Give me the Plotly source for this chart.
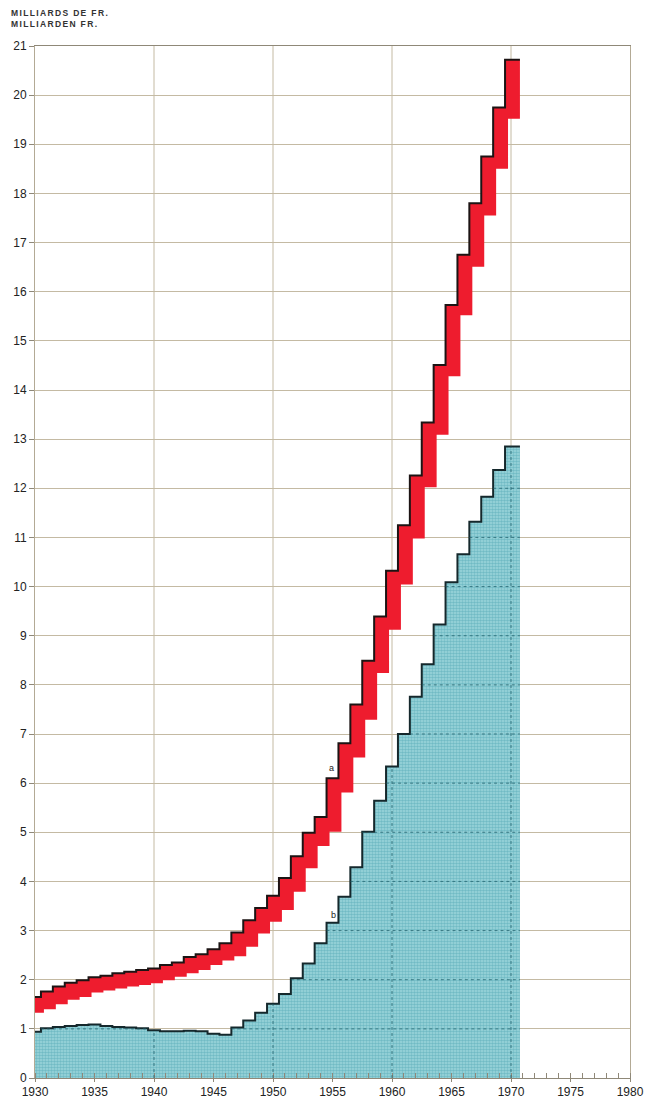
import numpy as np
import plotly.graph_objects as go

# Years 1930-1970, one value per year (milliards de francs)
years = list(range(1930, 1971))

# Curve a: band between a lower and an upper value
a_high = [1.65, 1.76, 1.86, 1.94, 1.99, 2.05, 2.08, 2.13, 2.16, 2.20,
          2.23, 2.30, 2.35, 2.46, 2.52, 2.62, 2.74, 2.96, 3.21, 3.46,
          3.71, 4.07, 4.51, 4.99, 5.31, 6.10, 6.81, 7.60, 8.49, 9.39,
          10.32, 11.25, 12.26, 13.34, 14.51, 15.73, 16.75, 17.80, 18.75, 19.75,
          20.72]
a_low = [1.33, 1.40, 1.50, 1.59, 1.65, 1.74, 1.78, 1.82, 1.86, 1.89,
         1.93, 1.99, 2.06, 2.13, 2.20, 2.30, 2.39, 2.48, 2.67, 2.94,
         3.18, 3.42, 3.79, 4.27, 4.72, 5.01, 5.81, 6.52, 7.29, 8.24,
         9.12, 10.04, 10.98, 12.02, 13.09, 14.28, 15.52, 16.51, 17.55, 18.50,
         19.52]

# Curve b: filled area
b_vals = [0.94, 1.01, 1.04, 1.06, 1.08, 1.09, 1.06, 1.04, 1.03, 1.01,
          0.97, 0.95, 0.95, 0.96, 0.95, 0.90, 0.88, 1.03, 1.17, 1.33,
          1.51, 1.71, 2.03, 2.33, 2.74, 3.16, 3.69, 4.29, 5.01, 5.64,
          6.34, 7.00, 7.76, 8.42, 9.23, 10.09, 10.66, 11.32, 11.83, 12.37,
          12.85]

y_ticks = list(range(0, 22))
x_label_years = list(range(1930, 1985, 5))
decade_lines = [1940, 1950, 1960, 1970]
unit_lines = ["MILLIARDS DE FR.", "MILLIARDEN FR."]

X0, X1 = 1930, 1980
LAG = 0.25  # lower edge of band a trails the upper edge

yr = np.array(years, dtype=float)
hi = np.array(a_high)
lo = np.array(a_low)
bv = np.array(b_vals)

# step edges: each yearly value spans one year centred on the year
left = np.maximum(yr - 0.5, X0)
end = yr[-1] + 0.5 + LAG
right = np.append(left[1:], end)
step_x = np.append(left, end)

# polygon for band a (upper staircase, then lower staircase back)
up_x, up_y = [], []
for i in range(len(yr)):
    up_x += [left[i], right[i]]
    up_y += [hi[i], hi[i]]
lo_left = np.maximum(yr - 0.5 + LAG, X0)
lo_left[0] = X0
lo_right = yr + 0.5 + LAG
dn_x, dn_y = [], []
for i in range(len(yr) - 1, -1, -1):
    dn_x += [lo_right[i], lo_left[i]]
    dn_y += [lo[i], lo[i]]
band_x = up_x + dn_x
band_y = up_y + dn_y

fig = go.Figure()

# area b, dotted teal fill
fig.add_trace(go.Scatter(
    x=step_x, y=np.append(bv, bv[-1]), mode="lines", line_shape="hv",
    line=dict(width=0, color="rgba(0,0,0,0)"), fill="tozeroy",
    fillpattern=dict(shape=".", fgcolor="#469fab",
                     bgcolor="#9dd6dc", size=3, solidity=0.55),
    hoverinfo="skip", showlegend=False))

# grid lines showing through area b (darker, dotted)
grid_in = dict(color="rgba(30,95,105,0.75)", width=1, dash="dot")
for k in y_ticks[1:]:
    inside = bv > k
    i = 0
    while i < len(bv):
        if inside[i]:
            j = i
            while j + 1 < len(bv) and inside[j + 1]:
                j += 1
            fig.add_shape(type="line", x0=left[i], x1=right[j], y0=k, y1=k,
                          xref="x", yref="y", line=grid_in, layer="above")
            i = j + 1
        else:
            i += 1
for d in decade_lines:
    idx = years.index(d)
    fig.add_shape(type="line", x0=d, x1=d, y0=0, y1=bv[idx], xref="x", yref="y",
                  line=grid_in, layer="above")

fig.add_trace(go.Scatter(
    x=step_x, y=np.append(bv, bv[-1]), mode="lines", line_shape="hv",
    line=dict(width=2, color="#15282c"), hoverinfo="skip", showlegend=False))

# band a, red
fig.add_trace(go.Scatter(
    x=band_x, y=band_y, mode="lines", fill="toself", fillcolor="#ee1c2e",
    line=dict(width=0, color="rgba(0,0,0,0)"), hoverinfo="skip", showlegend=False))
fig.add_trace(go.Scatter(
    x=step_x, y=np.append(hi, hi[-1]), mode="lines", line_shape="hv",
    line=dict(width=2, color="#1c1414"), hoverinfo="skip", showlegend=False))

grid_col = "#c4baa3"
for d in decade_lines:
    fig.add_shape(type="line", x0=d, x1=d, y0=0, y1=21, xref="x", yref="y",
                  line=dict(color=grid_col, width=1), layer="below")

fig.add_annotation(x=1954.9, y=6.3, text="a", showarrow=False,
                   font=dict(family="Liberation Sans", size=9, color="#222"))
fig.add_annotation(x=1955.05, y=3.32, text="b", showarrow=False,
                   font=dict(family="Liberation Sans", size=9, color="#222"))

# unit heading, two letter-spaced lines above the axis
for n, line in enumerate(unit_lines):
    fig.add_annotation(
        xref="paper", yref="paper", x=-0.044, y=1.039 - n * 0.0107,
        xanchor="left", yanchor="top", align="left", showarrow=False,
        text='<span style="letter-spacing:1.35px">' + line + '</span>',
        font=dict(family="Liberation Sans", size=8.5, color="#333", weight="bold"))

fig.update_layout(
    width=648, height=1102,
    margin=dict(l=35, r=18, t=46, b=24, autoexpand=False),
    paper_bgcolor="white", plot_bgcolor="white",
    font=dict(family="Liberation Sans", size=12, color="#222"),
    xaxis=dict(range=[X0, X1], tickvals=x_label_years, showgrid=False,
               automargin=False,
               zeroline=False, showline=True, linecolor="#8f8878", linewidth=1,
               mirror=True, ticks="outside", ticklen=3, tickcolor="#8f8878",
               minor=dict(dtick=1, ticks="inside", ticklen=5, tickcolor="#8f8878",
                          showgrid=False),
               tickfont=dict(family="Liberation Sans", size=12, color="#222")),
    yaxis=dict(range=[0, 21], tickvals=y_ticks, showgrid=True, gridcolor=grid_col,
               automargin=False,
               gridwidth=1, zeroline=False, showline=True, linecolor="#b3aa95",
               linewidth=1, mirror=True, ticks="outside", ticklen=5,
               tickcolor="#8f8878",
               tickfont=dict(family="Liberation Sans", size=12, color="#222")),
)

fig.write_html("out.html")
